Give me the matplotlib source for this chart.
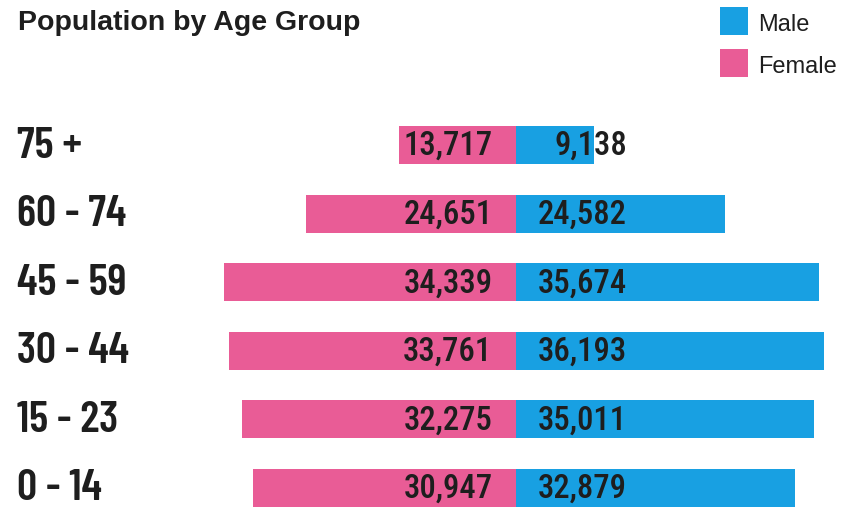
import matplotlib
matplotlib.use("Agg")
import matplotlib.pyplot as plt
from matplotlib.patches import Rectangle

# data
age_groups = ["75 +", "60 - 74", "45 - 59", "30 - 44", "15 - 23", "0 - 14"]
female = [13717, 24651, 34339, 33761, 32275, 30947]
male = [9138, 24582, 35674, 36193, 35011, 32879]

BLUE = "#18a0e2"
PINK = "#e95c96"
TXT = "#1e1e1e"
VAL_FONT = ["Roboto Condensed", "Liberation Sans", "DejaVu Sans"]
CAT_FONT = ["Barlow Condensed", "Liberation Sans", "DejaVu Sans"]
TITLE_FONT = ["Liberation Sans", "DejaVu Sans"]

fig = plt.figure(figsize=(8.44, 5.10), dpi=100)
ax = fig.add_axes([0, 0, 1, 1])

# zero line sits at x=516px, rows ~68.6px apart starting at 146px
px_per_unit = 0.0085
ax.set_xlim(-516 / px_per_unit, 328 / px_per_unit)
row_px, row0 = 68.6, 146
ax.set_ylim((510 - row0) / row_px, -row0 / row_px)
ax.axis("off")

ys = list(range(len(age_groups)))
ax.barh(ys, [-v for v in female], height=0.555, color=PINK, linewidth=0)
ax.barh(ys, male, height=0.555, color=BLUE, linewidth=0)

for y, f, m, name in zip(ys, female, male, age_groups):
    ax.annotate(f"{f:,}", (0, y), xytext=(-17, 0), textcoords="offset points",
                ha="right", va="center", fontsize=23.5, fontweight=500,
                color=TXT, family=VAL_FONT)
    ax.annotate(f"{m:,}", (0, y), xytext=(80, 0), textcoords="offset points",
                ha="right", va="center", fontsize=23.5, fontweight=500,
                color=TXT, family=VAL_FONT)
    ax.annotate(name, (0, y), xycoords=("figure pixels", "data"),
                xytext=(12.5, 0), textcoords="offset points",
                ha="left", va="center", fontsize=32, fontweight=600,
                color=TXT, family=CAT_FONT)

# title
fig.text(18 / 844, 1 - 30 / 510, "Population by Age Group", ha="left", va="baseline",
         fontsize=20.5, fontweight="bold", color=TXT, family=TITLE_FONT)

# legend
for i, (lab, col) in enumerate([("Male", BLUE), ("Female", PINK)]):
    top = 8 + i * 42
    fig.patches.append(Rectangle((720 / 844, 1 - (top + 28) / 510), 28 / 844, 28 / 510,
                                 transform=fig.transFigure, color=col, linewidth=0))
    fig.text(758 / 844, 1 - (top + 17) / 510, lab, ha="left", va="center",
             fontsize=17, color=TXT, family=["Liberation Sans", "DejaVu Sans"])

fig.savefig("out.png", dpi=100)
